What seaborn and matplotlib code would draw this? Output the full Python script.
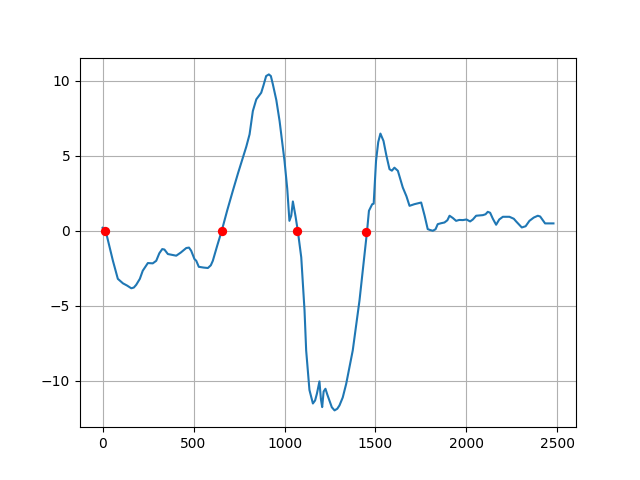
import matplotlib
matplotlib.use("Agg")
import matplotlib.pyplot as plt
import seaborn as sns
import pandas as pd

signal_x = [0, 15, 35, 57, 84, 112, 135, 158, 172, 185, 205, 221, 249, 276, 295, 312, 328, 340,
            359, 380, 405, 430, 460, 475, 487, 505, 515, 529, 555, 579, 595, 606, 630, 655,
            685, 716, 745, 771, 790, 808, 826, 845, 872, 885, 899, 914, 925, 936, 955, 973,
            1000, 1015, 1027, 1037, 1046, 1060, 1073, 1092, 1110, 1119, 1137, 1156, 1168,
            1178, 1192, 1200, 1207, 1215, 1225, 1235, 1247, 1260, 1275, 1290, 1302, 1320,
            1339, 1375, 1412, 1440, 1453, 1464, 1482, 1490, 1503, 1515, 1527, 1544, 1560,
            1577, 1590, 1604, 1623, 1650, 1670, 1687, 1714, 1740, 1751, 1770, 1787, 1800,
            1815, 1830, 1842, 1860, 1879, 1895, 1907, 1925, 1943, 1960, 1980, 2000, 2020,
            2035, 2053, 2070, 2090, 2105, 2117, 2130, 2145, 2163, 2180, 2200, 2236, 2260,
            2273, 2290, 2304, 2325, 2346, 2370, 2392, 2405, 2420, 2432, 2455, 2478]
signal_y = [0.2, 0.1, -0.9, -2.0, -3.2, -3.5, -3.65, -3.83, -3.78, -3.6, -3.2, -2.66, -2.15,
            -2.17, -2.0, -1.5, -1.22, -1.25, -1.55, -1.6, -1.66, -1.45, -1.15, -1.12, -1.33,
            -1.88, -2.0, -2.4, -2.45, -2.48, -2.3, -2.0, -1.0, 0.0, 1.35, 2.66, 3.85, 4.87,
            5.6, 6.42, 7.97, 8.75, 9.19, 9.7, 10.3, 10.41, 10.3, 9.75, 8.7, 7.3, 4.65, 2.8,
            0.66, 1.0, 1.95, 1.0, 0.0, -1.77, -5.3, -7.97, -10.6, -11.5, -11.3, -10.85,
            -10.03, -11.2, -11.74, -10.7, -10.52, -10.9, -11.3, -11.75, -11.96, -11.85,
            -11.63, -11.1, -10.19, -7.97, -4.65, -1.55, -0.1, 1.33, 1.77, 1.8, 4.65, 5.9,
            6.47, 5.98, 5.0, 4.1, 4.0, 4.2, 3.99, 2.88, 2.3, 1.66, 1.77, 1.85, 1.88, 1.0,
            0.11, 0.05, 0.0, 0.1, 0.44, 0.5, 0.55, 0.7, 1.0, 0.85, 0.66, 0.72, 0.71, 0.75,
            0.62, 0.75, 1.0, 1.02, 1.04, 1.1, 1.26, 1.2, 0.8, 0.4, 0.75, 0.93, 0.93, 0.8,
            0.62, 0.4, 0.22, 0.3, 0.66, 0.88, 1.0, 0.95, 0.7, 0.49, 0.49, 0.49]

crossing_x = [15, 655, 1070, 1450]
crossing_y = [0.0, 0.0, 0.0, -0.1]

line_df = pd.DataFrame({"x": signal_x, "y": signal_y})
dot_df = pd.DataFrame({"x": crossing_x, "y": crossing_y})

fig, ax = plt.subplots(figsize=(6.4, 4.8), dpi=100)
sns.lineplot(data=line_df, x="x", y="y", ax=ax, color="#1f77b4", linewidth=1.5,
             sort=False, estimator=None)
sns.scatterplot(data=dot_df, x="x", y="y", ax=ax, color="red", s=45, linewidth=0,
                zorder=3)
ax.set_xlabel("")
ax.set_ylabel("")
ax.grid(True)
ax.set_xticks([0, 500, 1000, 1500, 2000, 2500])
ax.set_yticks([-10, -5, 0, 5, 10])
fig.savefig("out.png", dpi=100)
